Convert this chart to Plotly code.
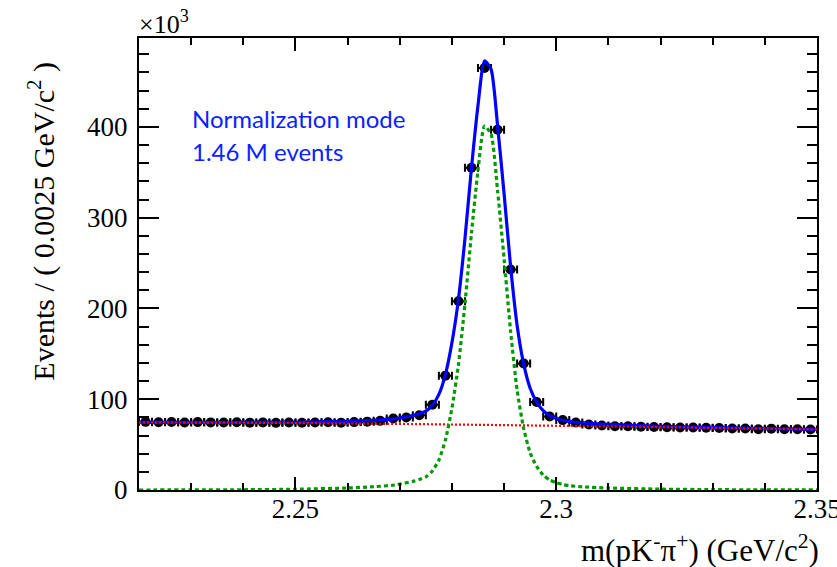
import numpy as np
import plotly.graph_objects as go

# Binned data: pK-pi+ invariant mass, bin width 0.0025 GeV/c^2, counts in units of 10^3
bin_width = 0.0025
mass_lo = 2.22
counts = [75.1, 74.6, 74.9, 74.4, 74.8, 74.5, 74.3, 74.7, 74.2, 74.5,
          74.0, 74.4, 74.1, 74.3, 74.6, 74.2, 74.8, 75.3, 76.2, 78.8,
          79.9, 82.4, 94.0, 126.0, 208.0, 355.0, 465.0, 397.0, 243.0, 139.5,
          97.0, 81.0, 77.0, 74.4, 72.2, 71.1, 70.3, 70.2, 69.6, 69.5,
          69.2, 68.9, 68.9, 68.5, 68.4, 67.8, 67.8, 67.0, 67.6, 67.0,
          67.0, 66.7]
bin_centers = [mass_lo + bin_width * (i + 0.5) for i in range(len(counts))]

# Fit components sampled along the mass axis (units of 10^3 events per bin)
curve_mass = [2.2200, 2.2300, 2.2400, 2.2500, 2.2600, 2.2650, 2.2690, 2.2725,
              2.27375, 2.2750, 2.27625, 2.2775, 2.27875, 2.2800, 2.28125, 2.2825,
              2.28375, 2.2850, 2.28625, 2.2875, 2.28875, 2.2900, 2.29125, 2.2925,
              2.29375, 2.2950, 2.29625, 2.2975, 2.29875, 2.3000, 2.30125, 2.3025,
              2.3050, 2.3100, 2.3200, 2.3300, 2.3400, 2.3500]
signal = [0.0, 0.1, 0.3, 0.8, 2.2, 3.6, 5.5, 9.5,
          11.5, 14.5, 21.0, 33.0, 55.0, 90.0, 138.0, 205.0,
          283.0, 352.0, 401.0, 392.0, 330.0, 255.0, 175.0, 110.0,
          68.0, 41.0, 26.0, 16.5, 11.0, 8.0, 6.0, 4.8,
          3.5, 2.2, 0.9, 0.4, 0.15, 0.05]
background = [74.6, 74.3, 74.1, 73.8, 73.3, 73.05, 72.85, 72.65,
              72.6, 72.5, 72.4, 72.3, 72.2, 72.15, 72.05, 72.0,
              71.9, 71.8, 71.7, 71.65, 71.55, 71.5, 71.4, 71.3,
              71.2, 71.1, 71.0, 70.9, 70.85, 70.75, 70.65, 70.55,
              70.4, 70.0, 69.2, 68.4, 67.6, 66.8]
total = [s + b for s, b in zip(signal, background)]

x_ticks = [2.25, 2.3, 2.35]
x_ticktext = ["2.25", "2.3", "2.35"]
y_ticks = [0, 100, 200, 300, 400]

serif = "Liberation Serif"
label_blue = "#0a22ff"

fig = go.Figure()

# data points with horizontal bin-width bars and Poisson vertical errors
fig.add_trace(go.Scatter(
    x=bin_centers, y=counts, mode="markers",
    marker=dict(color="black", size=10, symbol="circle"),
    error_x=dict(type="constant", value=bin_width / 2, color="black",
                 thickness=2, width=4),
    error_y=dict(type="data", array=[np.sqrt(c * 1000) / 1000 for c in counts],
                 color="black", thickness=2, width=4),
    showlegend=False,
))

fig.add_trace(go.Scatter(
    x=curve_mass, y=total, mode="lines",
    line=dict(color="#0000ff", width=3.2, shape="spline", smoothing=0.6),
    showlegend=False,
))
fig.add_trace(go.Scatter(
    x=curve_mass, y=background, mode="lines",
    line=dict(color="#ff0000", width=2.2, dash="2px,2px", shape="spline"),
    showlegend=False,
))
fig.add_trace(go.Scatter(
    x=curve_mass, y=signal, mode="lines",
    line=dict(color="#009a00", width=3.2, dash="4px,3px", shape="spline",
              smoothing=0.6),
    showlegend=False,
))

axis_common = dict(
    showline=True, linecolor="black", linewidth=2, mirror="ticks",
    ticks="inside", tickcolor="black", tickwidth=2,
    showgrid=False, zeroline=False, automargin=False,
    ticklabeloverflow="allow",
    tickfont=dict(family=serif, size=27, color="black"),
)

fig.update_xaxes(
    range=[2.22, 2.35], tickvals=x_ticks, ticktext=x_ticktext, ticklen=13,
    ticklabelstandoff=-6,
    minor=dict(dtick=0.01, tick0=2.22, ticks="inside", ticklen=7,
               tickwidth=2, tickcolor="black"),
    **axis_common,
)
fig.update_yaxes(
    range=[0, 498], tickvals=y_ticks, ticklen=20,
    ticklabelstandoff=4,
    minor=dict(dtick=20, tick0=0, ticks="inside", ticklen=10,
               tickwidth=2, tickcolor="black"),
    **axis_common,
)

fig.add_annotation(
    text="×10<sup>3</sup>", xref="paper", yref="paper", x=-0.003, y=1,
    xanchor="left", yanchor="bottom", yshift=-3, showarrow=False,
    font=dict(family=serif, size=26, color="black"),
)
fig.add_annotation(
    text="Events / ( 0.0025 GeV/c<sup>2</sup> )", textangle=-90,
    xref="paper", yref="paper", x=-0.143, y=0.951,
    xanchor="center", yanchor="top", showarrow=False,
    font=dict(family=serif, size=30, color="black"),
)
fig.add_annotation(
    text="m(pK<sup>-</sup>π<sup>+</sup>) (GeV/c<sup>2</sup>)",
    xref="paper", yref="paper", x=1 + 4 / 678, y=-0.13,
    xanchor="right", yanchor="middle", showarrow=False,
    font=dict(family=serif, size=31, color="black"),
)
fig.add_annotation(
    text="Normalization mode",
    xref="paper", yref="paper", x=(190 - 139) / 678, y=(490 - 118) / 452,
    xanchor="left", yanchor="middle", showarrow=False,
    font=dict(family="Lato", size=24, color=label_blue),
)
fig.add_annotation(
    text="1.46 M events",
    xref="paper", yref="paper", x=(190 - 139) / 678, y=(490 - 152) / 452,
    xanchor="left", yanchor="middle", showarrow=False,
    font=dict(family="Lato", size=24, color=label_blue),
)

fig.update_layout(
    width=837, height=567,
    margin=dict(l=139, r=20, t=38, b=77),
    paper_bgcolor="white", plot_bgcolor="white",
)

fig.write_html("out.html")
